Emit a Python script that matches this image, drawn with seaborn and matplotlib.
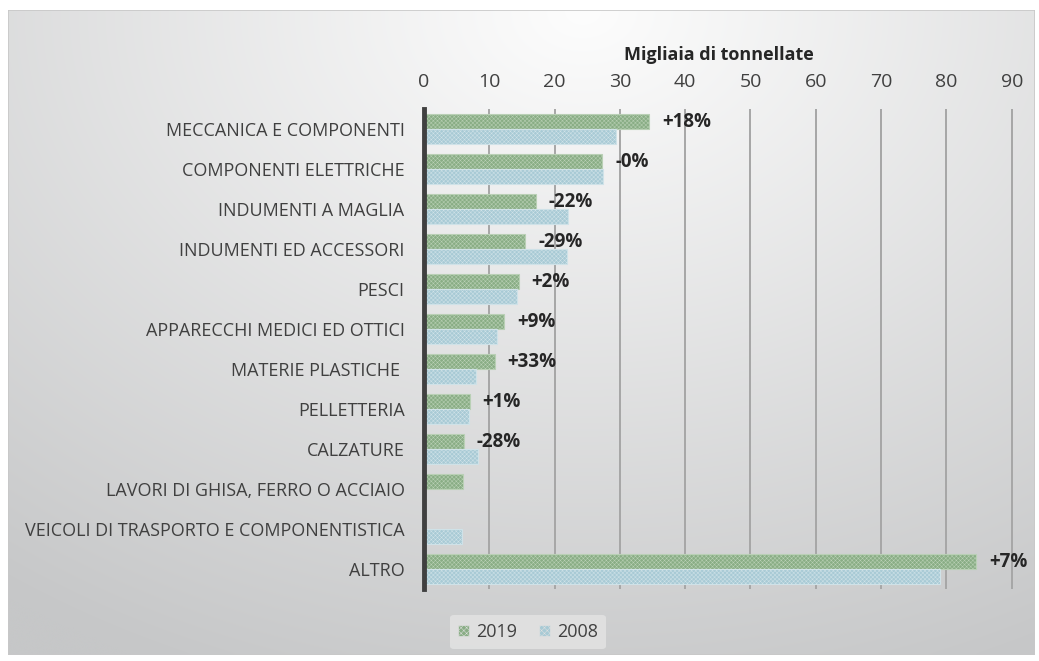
import numpy as np
import pandas as pd
import matplotlib
matplotlib.use("Agg")
import matplotlib.pyplot as plt
import matplotlib.transforms as mtrans
import seaborn as sns
from matplotlib.patches import Rectangle

categories = [
    "MECCANICA E COMPONENTI",
    "COMPONENTI ELETTRICHE",
    "INDUMENTI A MAGLIA",
    "INDUMENTI ED ACCESSORI",
    "PESCI",
    "APPARECCHI MEDICI ED OTTICI",
    "MATERIE PLASTICHE ",
    "PELLETTERIA",
    "CALZATURE",
    "LAVORI DI GHISA, FERRO O ACCIAIO",
    "VEICOLI DI TRASPORTO E COMPONENTISTICA",
    "ALTRO",
]
values_2019 = [34.5, 27.3, 17.1, 15.5, 14.5, 12.3, 10.8, 7.0, 6.1, 5.9, np.nan, 84.5]
values_2008 = [29.4, 27.4, 22.1, 21.9, 14.2, 11.2, 8.0, 6.9, 8.3, np.nan, 5.8, 79.0]
pct_labels = ["+18%", "-0%", "-22%", "-29%", "+2%", "+9%", "+33%", "+1%", "-28%", "", "", "+7%"]
series = ["2019", "2008"]
x_ticks = [0, 10, 20, 30, 40, 50, 60, 70, 80, 90]
x_title = "Migliaia di tonnellate"

df = pd.DataFrame({
    "categoria": categories * 2,
    "anno": [series[0]] * len(categories) + [series[1]] * len(categories),
    "valore": values_2019 + values_2008,
})

sns.set_theme(style="white")
plt.rcParams["font.family"] = ["Open Sans", "DejaVu Sans"]
plt.rcParams["hatch.linewidth"] = 0.35

W, H = 1039, 661
fig = plt.figure(figsize=(W / 100, H / 100), dpi=100)
fig.patch.set_facecolor("white")

# background gradient panel
bg = fig.add_axes([8 / W, 6 / H, 1 - 12 / W, 1 - 16 / H])
bg.set_axis_off()
ny, nx = 200, 320
yy, xx = np.mgrid[0:1:ny * 1j, 0:1:nx * 1j]
d = np.sqrt(((xx - 0.56) * 1.0) ** 2 + ((yy - 0.0) * 0.85) ** 2)
d = np.clip(d / 0.95, 0, 1)
top_c = np.array([253, 253, 253]) / 255
bot_c = np.array([198, 199, 200]) / 255
img = top_c[None, None, :] * (1 - d[..., None]) + bot_c[None, None, :] * d[..., None]
bg.imshow(img, aspect="auto", extent=[0, 1, 1, 0], interpolation="bicubic")
bg.set_xlim(0, 1)
bg.set_ylim(1, 0)
bg.add_patch(Rectangle((0, 0), 1, 1, transform=bg.transAxes, fill=False,
                       edgecolor="#c8c8c8", linewidth=1.2))

ax = fig.add_axes([424 / W, 1 - 589 / H, (1013 - 424) / W, (589 - 109) / H])
ax.patch.set_alpha(0)

bar_width = 0.73
palette = {"2019": "#89ad85", "2008": "#a8cad5"}
sns.barplot(data=df, y="categoria", x="valore", hue="anno", orient="h",
            palette=palette, width=bar_width, ax=ax, legend=False,
            saturation=1, zorder=3)

for bar in ax.patches:
    bar.set_hatch("xxxxxxxx")
    if bar.get_facecolor()[1] > 0.75:
        bar.set_edgecolor("#cfe2e8")
    else:
        bar.set_edgecolor("#b9d0b5")
    bar.set_linewidth(0.8)

ax.set_xlim(0, 90.2)
ax.set_xticks(x_ticks)
ax.xaxis.tick_top()
ax.xaxis.set_label_position("top")
ax.set_xlabel(x_title, fontsize=13, fontweight="bold", color="#262626", labelpad=9)
ax.set_ylabel("")
ax.tick_params(axis="x", length=0, labelsize=14, colors="#404040", pad=13)
ax.tick_params(axis="y", length=0, labelsize=13, colors="#404040", pad=14)
ax.grid(axis="x", color="#a6a6a6", linewidth=1.4, zorder=0)
ax.grid(axis="y", visible=False)
for s in ["top", "right", "bottom"]:
    ax.spines[s].set_visible(False)
ax.spines["left"].set_color("#404040")
ax.spines["left"].set_linewidth(3.5)
ax.spines["left"].set_zorder(5)

# percent labels next to 2019 bars
offset = mtrans.offset_copy(ax.transData, fig=fig, x=13, y=0, units="dots")
for i, (lab, v) in enumerate(zip(pct_labels, values_2019)):
    if lab and not np.isnan(v):
        yc = i - bar_width / 4
        ax.text(v, yc, lab, transform=offset, ha="left", va="center",
                fontsize=13.5, fontweight="bold", color="#262626", zorder=6)

# legend
handles = [Rectangle((0, 0), 1, 1, facecolor=palette[s], edgecolor="#e0e0e0",
                     hatch="xxxxxx", linewidth=0.5) for s in series]
leg = fig.legend(handles, series, loc="center", bbox_to_anchor=(528 / W, 1 - 632 / H),
                 ncol=2, frameon=True, fontsize=13, handlelength=0.6, handleheight=0.6,
                 handletextpad=0.4, columnspacing=1.2, borderpad=0.45)
leg.get_frame().set_facecolor("#e4e4e4")
leg.get_frame().set_edgecolor("none")
leg.get_frame().set_alpha(0.8)
for t in leg.get_texts():
    t.set_color("#404040")

fig.savefig("out.png", dpi=100)
